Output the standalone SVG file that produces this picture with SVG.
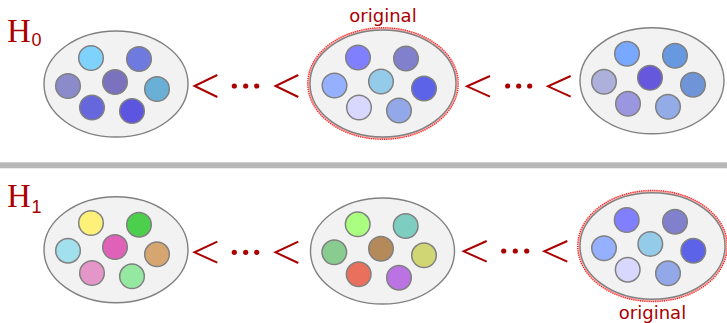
<svg xmlns="http://www.w3.org/2000/svg" width="727" height="323" viewBox="0 0 727 323">
<style>
.bag{fill:#f2f2f2;stroke:#808080;stroke-width:1.4}
.ball{stroke:#808080;stroke-width:1.5}
.hi1{fill:none;stroke:#ffb3b3;stroke-width:2.2}
.hi2{fill:none;stroke:#ff1a1a;stroke-width:1.4;stroke-dasharray:1.1 1.1}
.lt{fill:none;stroke:#aa0000;stroke-width:2}
.dot{fill:#aa0000}
.lbl{font-family:"DejaVu Sans",Verdana,sans-serif;font-size:18px;fill:#aa0000;text-anchor:middle}
.H{font-family:"Liberation Serif","Times New Roman",serif;font-size:33px;fill:#aa0000}
.sub{font-family:"Liberation Sans",Arial,sans-serif;font-size:18px;fill:#aa0000}
</style>
<rect x="0" y="0" width="727" height="323" fill="#ffffff"/>
<rect id="separator" x="0" y="162.3" width="727" height="6" fill="#b8b8b8"/>
<g id="H0"><text class="H" x="7" y="41.7">H</text><text class="sub" x="31.5" y="46">0</text></g>
<g id="H1"><text class="H" x="7" y="206.7">H</text><text class="sub" x="31.5" y="212.5">1</text></g>

<g id="node-h0-left" transform="translate(116,84)">
<ellipse class="bag" cx="0" cy="0" rx="72" ry="53"/>
<circle class="ball" cx="-25" cy="-26" r="12.3" fill="#7fd2fc"/>
<circle class="ball" cx="23" cy="-25" r="12.3" fill="#6f7ade"/>
<circle class="ball" cx="-48" cy="2" r="12.3" fill="#8b8bcc"/>
<circle class="ball" cx="-1" cy="-2" r="12.3" fill="#7b72bf"/>
<circle class="ball" cx="41" cy="5" r="12.3" fill="#6ab0d6"/>
<circle class="ball" cx="-24" cy="23.5" r="12.3" fill="#6666dd"/>
<circle class="ball" cx="16" cy="27" r="12.3" fill="#5c55e0"/>
</g>

<g id="node-h0-original" transform="translate(383,83.5)">
<ellipse class="hi1" cx="0" cy="0" rx="74.3" ry="54.8"/>
<ellipse class="hi2" cx="0" cy="0" rx="75.3" ry="55.8"/>
<ellipse class="bag" cx="0" cy="0" rx="73" ry="53.5"/>
<circle class="ball" cx="-25" cy="-26" r="12.3" fill="#8080ff"/>
<circle class="ball" cx="23" cy="-25" r="12.3" fill="#8080cc"/>
<circle class="ball" cx="-48.5" cy="2" r="12.3" fill="#94b0ff"/>
<circle class="ball" cx="-2" cy="-2" r="12.3" fill="#94cbe8"/>
<circle class="ball" cx="41" cy="5" r="12.3" fill="#5d63e8"/>
<circle class="ball" cx="-24" cy="24" r="12.3" fill="#d8d8ff"/>
<circle class="ball" cx="16" cy="27" r="12.3" fill="#93a8e8"/>
<text class="lbl" x="0" y="-62">original</text>
</g>

<g id="node-h0-right" transform="translate(652,80.8)">
<ellipse class="bag" cx="0" cy="0" rx="72" ry="53"/>
<circle class="ball" cx="-25" cy="-27" r="12.3" fill="#78a8ff"/>
<circle class="ball" cx="23" cy="-25" r="12.3" fill="#6699e0"/>
<circle class="ball" cx="-48" cy="1" r="12.3" fill="#aeb0dc"/>
<circle class="ball" cx="-2" cy="-3" r="12.3" fill="#6658dd"/>
<circle class="ball" cx="41" cy="4" r="12.3" fill="#7094d8"/>
<circle class="ball" cx="-24" cy="23" r="12.3" fill="#9b96e0"/>
<circle class="ball" cx="16" cy="26" r="12.3" fill="#93ace8"/>
</g>

<g id="node-h1-left" transform="translate(116,249.7)">
<ellipse class="bag" cx="0" cy="0" rx="72" ry="53"/>
<circle class="ball" cx="-25" cy="-26.7" r="12.3" fill="#fdf17a"/>
<circle class="ball" cx="23" cy="-25" r="12.3" fill="#4ccf4c"/>
<circle class="ball" cx="-48" cy="1" r="12.3" fill="#a1e0ec"/>
<circle class="ball" cx="-1" cy="-2.7" r="12.3" fill="#e062b8"/>
<circle class="ball" cx="41" cy="4.6" r="12.3" fill="#d6a670"/>
<circle class="ball" cx="-24" cy="23.3" r="12.3" fill="#e596c8"/>
<circle class="ball" cx="16" cy="26.6" r="12.3" fill="#94e8a0"/>
</g>

<g id="node-h1-middle" transform="translate(382.5,251)">
<ellipse class="bag" cx="0" cy="0" rx="72" ry="53"/>
<circle class="ball" cx="-24.8" cy="-26.7" r="12.3" fill="#aaff80"/>
<circle class="ball" cx="23.2" cy="-25" r="12.3" fill="#7dcdc0"/>
<circle class="ball" cx="-48.2" cy="1.3" r="12.3" fill="#88cc90"/>
<circle class="ball" cx="-1.5" cy="-2.3" r="12.3" fill="#b58a5a"/>
<circle class="ball" cx="41.5" cy="4.3" r="12.3" fill="#cfd673"/>
<circle class="ball" cx="-23.8" cy="23.3" r="12.3" fill="#e8705c"/>
<circle class="ball" cx="16.5" cy="26.7" r="12.3" fill="#bb73e3"/>
</g>

<g id="node-h1-original" transform="translate(652.5,246)">
<ellipse class="hi1" cx="0" cy="0" rx="73.8" ry="54.6"/>
<ellipse class="hi2" cx="0" cy="0" rx="74.8" ry="55.6"/>
<ellipse class="bag" cx="0" cy="0" rx="72.5" ry="53.3"/>
<circle class="ball" cx="-25.8" cy="-26" r="12.3" fill="#8080ff"/>
<circle class="ball" cx="22.5" cy="-24.3" r="12.3" fill="#8080cc"/>
<circle class="ball" cx="-48.5" cy="2.3" r="12.3" fill="#94b0ff"/>
<circle class="ball" cx="-2.2" cy="-2" r="12.3" fill="#94cbe8"/>
<circle class="ball" cx="40.8" cy="4.7" r="12.3" fill="#5d63e8"/>
<circle class="ball" cx="-24.8" cy="23.7" r="12.3" fill="#d8d8ff"/>
<circle class="ball" cx="15.5" cy="27.3" r="12.3" fill="#93a8e8"/>
<text class="lbl" x="0" y="73.3">original</text>
</g>

<g id="connectors">
<polyline class="lt" points="217.3,75 194.5,86 217.3,97"/>
<circle class="dot" cx="234.3" cy="86" r="2.6"/>
<circle class="dot" cx="245.7" cy="86" r="2.6"/>
<circle class="dot" cx="256.7" cy="86" r="2.6"/>
<polyline class="lt" points="298.3,75 275.5,86 298.3,97"/>

<polyline class="lt" points="490,76 467,86.3 490,96.7"/>
<circle class="dot" cx="507.7" cy="86" r="2.6"/>
<circle class="dot" cx="518.7" cy="86" r="2.6"/>
<circle class="dot" cx="529.7" cy="86" r="2.6"/>
<polyline class="lt" points="570.7,76 548,86.3 570.7,96.7"/>

<polyline class="lt" points="217.3,241.7 194.5,252.3 217.3,262.7"/>
<circle class="dot" cx="234.3" cy="252.3" r="2.6"/>
<circle class="dot" cx="245.7" cy="252.3" r="2.6"/>
<circle class="dot" cx="256.7" cy="252.3" r="2.6"/>
<polyline class="lt" points="298.3,241.7 275.5,252.3 298.3,263"/>

<polyline class="lt" points="486.7,241 463.7,251.3 486.7,261.7"/>
<circle class="dot" cx="503.7" cy="251" r="2.6"/>
<circle class="dot" cx="515.3" cy="251" r="2.6"/>
<circle class="dot" cx="526.7" cy="251" r="2.6"/>
<polyline class="lt" points="567.3,241 544.3,251.3 567.3,261.7"/>
</g>
</svg>
